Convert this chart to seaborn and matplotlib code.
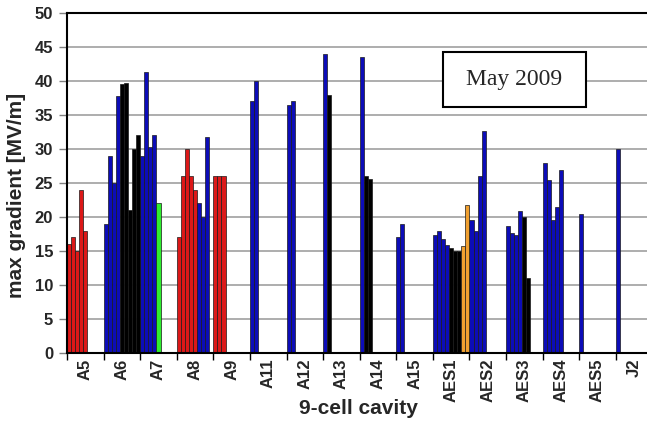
import matplotlib
matplotlib.use("Agg")
import matplotlib.pyplot as plt
import pandas as pd
import seaborn as sns
from matplotlib.patches import Rectangle

# cavities in x order, max gradient per test (MV/m) and test status
cavities = ["A5", "A6", "A7", "A8", "A9", "A11", "A12", "A13", "A14", "A15",
            "AES1", "AES2", "AES3", "AES4", "AES5", "J2"]
gradients = [
    [16, 17, 15, 24, 18],
    [19, 29, 25, 37.8, 39.5, 39.7, 21, 30, 32],
    [29, 41.3, 30.3, 32, 22],
    [17, 26, 30, 26, 24, 22.1, 20, 31.7],
    [26, 26, 26],
    [37, 40],
    [36.5, 37],
    [44, 38],
    [43.6, 26, 25.6],
    [17, 19],
    [17.4, 17.9, 16.8, 15.9, 15.5, 15, 15, 15.8, 21.7],
    [19.5, 18, 26, 32.7],
    [18.7, 17.6, 17.3, 20.9, 20, 11],
    [27.9, 25.4, 19.5, 21.4, 26.9],
    [20.4],
    [30],
]
status = [
    ["r"] * 5,
    ["b"] * 4 + ["k"] * 5,
    ["b"] * 4 + ["g"],
    ["r"] * 5 + ["b"] * 3,
    ["r"] * 3,
    ["b"] * 2,
    ["b"] * 2,
    ["b", "k"],
    ["b", "k", "k"],
    ["b"] * 2,
    ["b"] * 4 + ["k"] * 3 + ["o"] * 2,
    ["b"] * 4,
    ["b"] * 4 + ["k"] * 2,
    ["b"] * 5,
    ["b"],
    ["b"],
]
colors = {"r": "#dc1818", "b": "#0c0cb8", "k": "#000000",
          "g": "#30ee30", "o": "#f0a030"}
slots_per_cavity = 9

rows = []
for i, (vals, st) in enumerate(zip(gradients, status)):
    for j, (v, s) in enumerate(zip(vals, st)):
        rows.append({"pos": i + (j + 0.5) / slots_per_cavity, "grad": v, "status": s})
df = pd.DataFrame(rows)

sns.set_style("white")
plt.rcParams["font.family"] = ["Liberation Sans", "DejaVu Sans"]

fig = plt.figure(figsize=(6.47, 4.24), dpi=100)
ax = fig.add_axes([67 / 647, 1 - 353 / 424, 622 / 647, 340 / 424])

ax.set_axisbelow(True)
for y in range(5, 50, 5):
    ax.axhline(y, color="#a0a0a0", lw=1.2, zorder=0)

sns.barplot(data=df, x="pos", y="grad", hue="status", palette=colors,
            native_scale=True, dodge=False, width=1, legend=False,
            saturation=1, edgecolor="#1a1a1a", linewidth=0.5, ax=ax)

n = len(cavities) + 1
ax.set_xlim(0, n)
ax.set_ylim(0, 50)
ax.set_xticks(range(n))
ax.set_xticklabels([])
ax.set_xticks([i + 0.5 for i in range(len(cavities))], minor=True)
ax.set_xticklabels(cavities, minor=True, rotation=90, fontsize=12,
                   fontweight="bold")
ax.tick_params(axis="x", which="major", direction="out", length=5,
               width=1, color="black", bottom=True)
ax.tick_params(axis="x", which="minor", length=0, pad=4)
ax.set_yticks(range(0, 51, 5))
ax.set_yticklabels([str(v) for v in range(0, 51, 5)], fontsize=12,
                   fontweight="bold")
ax.tick_params(axis="y", direction="out", length=6, width=1,
               color="#808080", left=True, pad=4)

for side in ["top", "left", "bottom"]:
    ax.spines[side].set_color("black")
    ax.spines[side].set_linewidth(1.5)
ax.spines["right"].set_visible(False)

ax.set_xlabel("9-cell cavity", fontsize=15, fontweight="bold", labelpad=1)
ax.xaxis.set_label_coords(0.468, -0.135)
ax.set_ylabel("max gradient [MV/m]", fontsize=15, fontweight="bold")
ax.yaxis.set_label_coords(-0.066, 0.462)

box = Rectangle((0.6045, 0.7235), 0.2299, 0.1618, transform=ax.transAxes,
                fc="white", ec="black", lw=1.5, zorder=5)
ax.add_patch(box)
ax.text(0.7195, 0.8044, "May 2009", transform=ax.transAxes, fontsize=17,
        family="Liberation Serif", ha="center", va="center", zorder=6)

fig.savefig("out.png", dpi=100)
